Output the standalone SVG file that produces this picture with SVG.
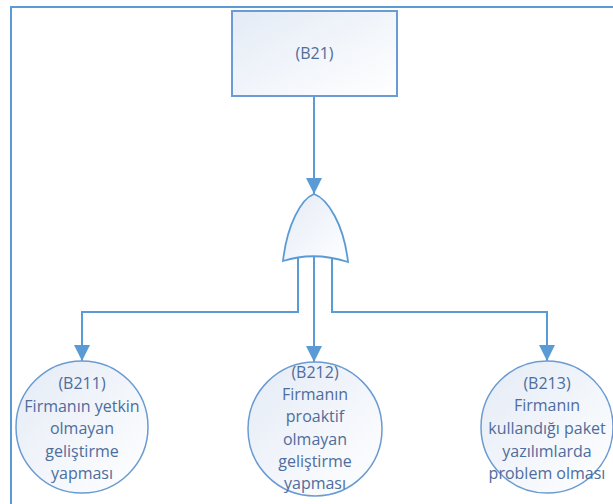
<svg xmlns="http://www.w3.org/2000/svg" width="613" height="504" viewBox="0 0 613 504">
<style>
.frame{fill:none;stroke:#5b9bd5;stroke-width:2}
.conn{fill:none;stroke:#5b9bd5;stroke-width:2}
.box{stroke:#6a9bd2;stroke-width:2}
.circ{stroke:#6a9bd2;stroke-width:1.5}
.gate{stroke:#5b9bd5;stroke-width:1.8}
text{font-family:"Open Sans","DejaVu Sans",sans-serif;font-size:16px;fill:#4e6d9c;text-anchor:middle}
</style>
<defs>
<linearGradient id="g1" x1="0" y1="0" x2="1" y2="1">
<stop offset="0" stop-color="#e4ebf6"/>
<stop offset="1" stop-color="#ffffff"/>
</linearGradient>
<marker id="arr" markerUnits="userSpaceOnUse" markerWidth="16" markerHeight="16" viewBox="0 0 16 16" refX="16" refY="8" orient="auto">
<path d="M0,0 L16,8 L0,16 Z" fill="#5b9bd5"/>
</marker>
</defs>
<rect width="613" height="504" fill="#ffffff"/>
<path class="frame" d="M11,504 V7 H613"/>
<g id="connectors">
<path class="conn" d="M314,96 V194" marker-end="url(#arr)"/>
<path class="conn" d="M298,258 V312 H82 V361" marker-end="url(#arr)"/>
<path class="conn" d="M314,252 V362" marker-end="url(#arr)"/>
<path class="conn" d="M332,258 V312 H547 V361" marker-end="url(#arr)"/>
</g>
<g id="B21">
<rect class="box" x="232" y="11" width="165" height="85" fill="url(#g1)"/>
<text x="314.5" y="59">(B21)</text>
</g>
<g id="gate">
<path class="gate" fill="url(#g1)" d="M314,194 C301,199 287,225 283,261 Q314,251 348,262 C344,225 328,199 314,194 Z"/>
</g>
<g id="B211">
<circle class="circ" cx="82" cy="427" r="66" fill="url(#g1)"/>
<text x="82" y="389">(B211)</text>
<text x="82" y="412">Firmanın yetkin</text>
<text x="82" y="434">olmayan</text>
<text x="82" y="457">geliştirme</text>
<text x="82" y="479">yapması</text>
</g>
<g id="B212">
<circle class="circ" cx="315" cy="429" r="67" fill="url(#g1)"/>
<text x="315" y="378">(B212)</text>
<text x="315" y="400">Firmanın</text>
<text x="315" y="422">proaktif</text>
<text x="315" y="445">olmayan</text>
<text x="315" y="467">geliştirme</text>
<text x="315" y="489">yapması</text>
</g>
<g id="B213">
<circle class="circ" cx="547" cy="427" r="66" fill="url(#g1)"/>
<text x="547" y="389">(B213)</text>
<text x="547" y="411">Firmanın</text>
<text x="547" y="434">kullandığı paket</text>
<text x="547" y="457">yazılımlarda</text>
<text x="547" y="479">problem olması</text>
</g>
</svg>
